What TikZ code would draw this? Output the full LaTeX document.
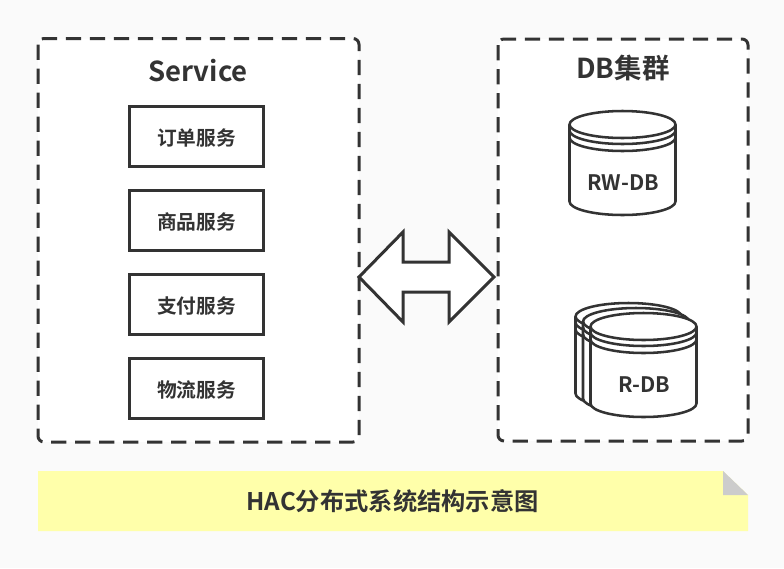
\documentclass[tikz,border=0pt]{standalone}
\usepackage{fontspec}
\setmainfont{Noto Sans CJK SC}[BoldFont={Noto Sans CJK SC Bold}]
\definecolor{ink}{HTML}{333333}
\definecolor{pagebg}{HTML}{FAFAFA}
\definecolor{noteyellow}{HTML}{FFFFAA}
\definecolor{foldgray}{HTML}{CCCCCC}
\tikzset{
  groupbox/.style={draw=ink,fill=white,line width=2.25pt,dash pattern=on 11.5pt off 6.5pt,rounded corners=4.5pt},
  svcbox/.style={draw=ink,fill=white,line width=2.25pt,minimum width=100.5pt,minimum height=45pt,inner sep=0pt,text height=13.8pt,text depth=0pt,font=\bfseries\fontsize{14.8}{18}\selectfont,text=ink},
  title/.style={font=\bfseries\fontsize{20.6}{25}\selectfont,text=ink,inner sep=0pt},
  dblabel/.style={font=\bfseries\fontsize{16}{19}\selectfont,text=ink,inner sep=0pt},
  dbline/.style={draw=ink,line width=1.9pt,fill=white,line join=round}
}
% #1 = centre x, #2 = y of the top ellipse's centre, in px
\newcommand{\dbcyl}[2]{%
  \path[dbline] (#1-53,#2) -- (#1-53,#2+77)
     arc[start angle=180,end angle=0,x radius=53,y radius=13.5]
     -- (#1+53,#2)
     arc[start angle=0,end angle=-180,x radius=53,y radius=13.5] -- cycle;
  \draw[dbline,fill=none] (#1-53,#2) arc[start angle=180,end angle=0,x radius=53,y radius=13.5];
  \draw[dbline,fill=none] (#1-53,#2+6) arc[start angle=180,end angle=0,x radius=53,y radius=13.5];
  \draw[dbline,fill=none] (#1-53,#2+13) arc[start angle=180,end angle=0,x radius=53,y radius=13.5];
}
\begin{document}
\begin{tikzpicture}[x=0.75pt,y=-0.75pt]
\useasboundingbox (0,0) rectangle (784,568);
\fill[pagebg] (0,0) rectangle (784,568);

\draw[groupbox] (38,38.5) rectangle (359,442);
\draw[groupbox] (498,39) rectangle (748,441);

\node[title] (svc) at (198,70.5) {Service};
\node[title] (db) at (623,68) {DB集群};

\node[svcbox] (s1) at (196.5,136) {订单服务};
\node[svcbox] (s2) at (196.5,220) {商品服务};
\node[svcbox] (s3) at (196.5,304) {支付服务};
\node[svcbox] (s4) at (196.5,388) {物流服务};

\draw[draw=ink,fill=white,line width=2.25pt,miter limit=10]
  (359,277) -- (403,232) -- (403,262) -- (449,262) -- (449,232) -- (494,277)
  -- (449,322) -- (449,292) -- (403,292) -- (403,322) -- cycle;

\dbcyl{622.5}{124.5}
\node[dblabel] (rw) at (623,183) {RW-DB};

\dbcyl{628.5}{316.5}
\dbcyl{636}{321.5}
\dbcyl{643.5}{326.5}
\node[dblabel] (r) at (644,385) {R-DB};

\fill[noteyellow] (38,471) -- (723,471) -- (748,495) -- (748,531) -- (38,531) -- cycle;
\fill[foldgray] (723,471) -- (723,495) -- (748,495) -- cycle;
\node[font=\bfseries\fontsize{18.2}{22}\selectfont,text=ink,inner sep=0pt] (cap) at (392.5,501) {HAC分布式系统结构示意图};
\end{tikzpicture}
\end{document}
